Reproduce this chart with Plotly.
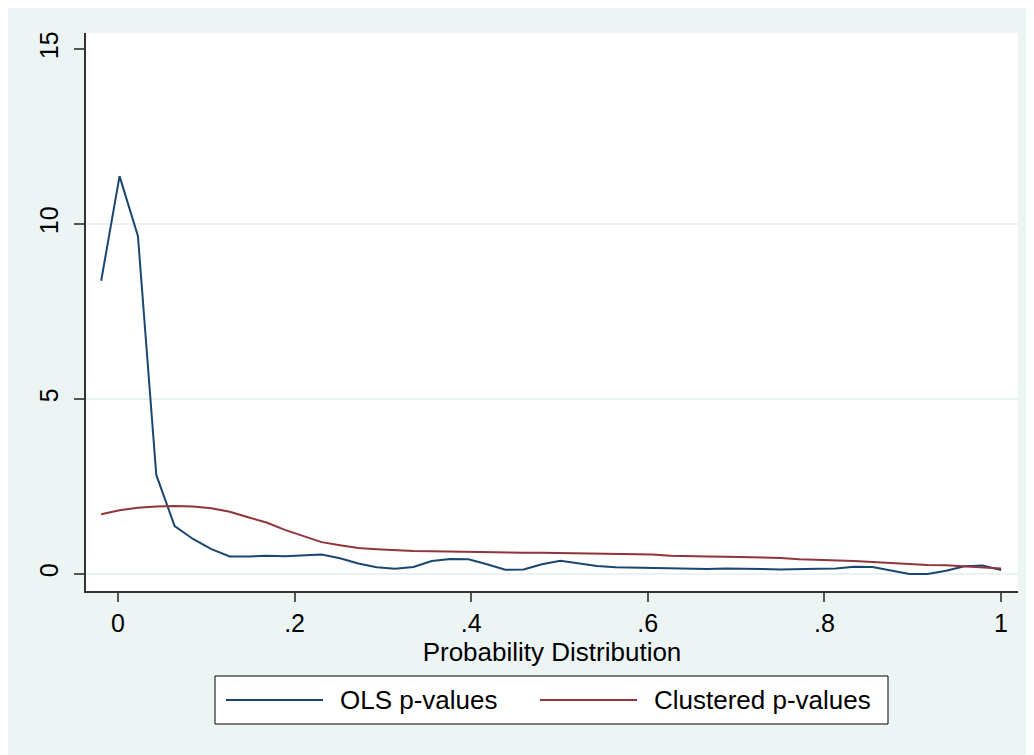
import plotly.graph_objects as go

# Evaluation grid (50 points from -0.019 to 1.0)
x_start = -0.019
x_step = 0.0208
n_points = 50
x_vals = [round(x_start + x_step * i, 4) for i in range(n_points)]

ols_pvalues = [8.38, 11.37, 9.66, 2.83, 1.37, 1.00, 0.71, 0.50, 0.50, 0.52,
               0.51, 0.54, 0.56, 0.45, 0.30, 0.19, 0.15, 0.20, 0.37, 0.43,
               0.42, 0.28, 0.12, 0.13, 0.28, 0.38, 0.30, 0.23, 0.19, 0.18,
               0.16, 0.14, 0.13, 0.14, 0.16, 0.16, 0.14, 0.13, 0.13, 0.15,
               0.16, 0.21, 0.20, 0.10, 0.00, 0.00, 0.09, 0.22, 0.24, 0.11]

clustered_pvalues = [1.71, 1.82, 1.89, 1.93, 1.94, 1.93, 1.88, 1.78, 1.62, 1.47,
                     1.26, 1.09, 0.91, 0.82, 0.74, 0.71, 0.68, 0.66, 0.65, 0.64,
                     0.64, 0.62, 0.60, 0.61, 0.61, 0.60, 0.60, 0.59, 0.57, 0.57,
                     0.56, 0.52, 0.50, 0.50, 0.49, 0.48, 0.46, 0.46, 0.42, 0.41,
                     0.39, 0.37, 0.34, 0.31, 0.28, 0.26, 0.25, 0.22, 0.20, 0.16]

series_names = ["OLS p-values", "Clustered p-values"]
x_tick_vals = [0, 0.2, 0.4, 0.6, 0.8, 1]
x_tick_text = ["0", ".2", ".4", ".6", ".8", "1"]
y_tick_vals = [0, 5, 10, 15]
y_tick_text = ["0", "5", "10", "15"]
grid_vals = [0, 5, 10]
x_title = "Probability Distribution"

BLUE = "#1A476F"
RED = "#90353B"
BG = "#EDF5F4"
GRID = "#EAF2F3"
FONT = "Liberation Sans, Arial, sans-serif"

fig = go.Figure()
fig.add_trace(go.Scatter(x=x_vals, y=ols_pvalues, mode="lines", name=series_names[0],
                         line=dict(color=BLUE, width=2), showlegend=False))
fig.add_trace(go.Scatter(x=x_vals, y=clustered_pvalues, mode="lines", name=series_names[1],
                         line=dict(color=RED, width=2), showlegend=False))

OFF = 8  # page body margin
W, H = 1034 - OFF, 755 - OFF
L, T = 86 - OFF, 33 - OFF
R = W - (1018 - OFF)
B = H - (591 - OFF)
pw, ph = W - L - R, H - T - B

def px(xp):
    return (xp - OFF - L) / pw

def py(yp):
    return (H - B - (yp - OFF)) / ph

shapes = []
for g in grid_vals:
    shapes.append(dict(type="line", xref="paper", yref="y", x0=0, x1=1, y0=g, y1=g,
                       line=dict(color=GRID, width=2), layer="between"))
shapes += [
    # legend box
    dict(type="rect", xref="paper", yref="paper", x0=px(215), x1=px(888), y0=py(724), y1=py(676),
         fillcolor="white", line=dict(color="black", width=1)),
    dict(type="line", xref="paper", yref="paper", x0=px(226), x1=px(323), y0=py(700), y1=py(700),
         line=dict(color=BLUE, width=2)),
    dict(type="line", xref="paper", yref="paper", x0=px(540), x1=px(637), y0=py(700), y1=py(700),
         line=dict(color=RED, width=2)),
]

annotations = [
    dict(text=series_names[0], xref="paper", yref="paper", x=px(338), y=py(700),
         xanchor="left", yanchor="middle", showarrow=False,
         font=dict(family=FONT, size=26, color="black")),
    dict(text=series_names[1], xref="paper", yref="paper", x=px(652), y=py(700),
         xanchor="left", yanchor="middle", showarrow=False,
         font=dict(family=FONT, size=26, color="black")),
]

fig.update_layout(
    width=W, height=H,
    margin=dict(l=L, r=R, t=T, b=B, pad=0),
    paper_bgcolor=BG,
    plot_bgcolor="white",
    font=dict(family=FONT, size=25, color="black"),
    shapes=shapes,
    annotations=annotations,
    showlegend=False,
)

fig.update_xaxes(
    range=[-0.0362, 1.0193],
    tickvals=x_tick_vals, ticktext=x_tick_text,
    ticks="outside", ticklen=9, tickcolor="#555555", tickwidth=1.5,
    showline=True, linecolor="#333333", linewidth=1.5,
    showgrid=False, zeroline=False,
    tickfont=dict(family=FONT, size=25, color="black"),
    title=dict(text=x_title, font=dict(family=FONT, size=26, color="black"), standoff=0),
)

fig.update_yaxes(
    range=[-0.486, 15.46],
    tickvals=y_tick_vals, ticktext=y_tick_text,
    ticks="outside", ticklen=10, tickcolor="#555555", tickwidth=1.5,
    showline=True, linecolor="#333333", linewidth=1.5,
    showgrid=False, zeroline=False,
    tickangle=-90, ticklabelstandoff=6,
    tickfont=dict(family=FONT, size=25, color="black"),
)

fig.write_html("out.html")
